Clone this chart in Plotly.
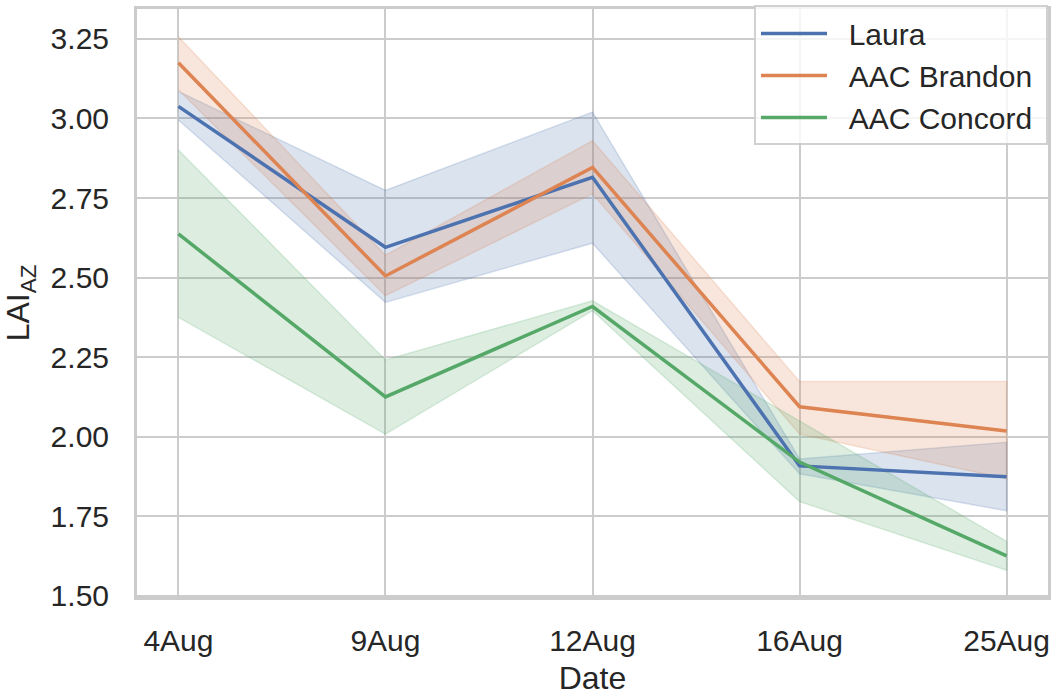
import plotly.graph_objects as go

# Sampling dates (categorical x axis)
dates = ["4Aug", "9Aug", "12Aug", "16Aug", "25Aug"]

# Mean LAI_AZ per cultivar with confidence band limits
laura_mean = [3.038, 2.595, 2.815, 1.908, 1.874]
laura_lo = [2.995, 2.422, 2.608, 1.883, 1.767]
laura_hi = [3.085, 2.774, 3.020, 1.930, 1.982]

brandon_mean = [3.175, 2.505, 2.846, 2.094, 2.018]
brandon_lo = [3.090, 2.443, 2.763, 2.008, 1.868]
brandon_hi = [3.257, 2.570, 2.930, 2.173, 2.173]

concord_mean = [2.637, 2.125, 2.409, 1.920, 1.625]
concord_lo = [2.375, 2.008, 2.396, 1.796, 1.580]
concord_hi = [2.901, 2.241, 2.427, 2.049, 1.671]

y_ticks = [1.50, 1.75, 2.00, 2.25, 2.50, 2.75, 3.00, 3.25]

series = [
    ("Laura", laura_mean, laura_lo, laura_hi, (76, 114, 176)),
    ("AAC Brandon", brandon_mean, brandon_lo, brandon_hi, (221, 132, 82)),
    ("AAC Concord", concord_mean, concord_lo, concord_hi, (85, 168, 104)),
]

FONT = "Liberation Sans, Arial, sans-serif"
TEXT = "#262626"
GRID = "#cccccc"
PAD_L = "\u00a0\u00a0"  # gap between legend line sample and its label
PAD_R = "\u00a0"        # breathing room at the legend's right border

fig = go.Figure()

# Shaded confidence bands first so the mean lines sit on top
for name, mean, lo, hi, (r, g, b) in series:
    fig.add_trace(go.Scatter(
        x=dates + dates[::-1],
        y=hi + lo[::-1],
        fill="toself",
        fillcolor=f"rgba({r},{g},{b},0.2)",
        line=dict(color=f"rgba({r},{g},{b},0.2)", width=1.5),
        mode="lines",
        hoverinfo="skip",
        showlegend=False,
    ))

for i, (name, mean, lo, hi, (r, g, b)) in enumerate(series):
    fig.add_trace(go.Scatter(
        x=dates,
        y=mean,
        mode="lines",
        name=PAD_L + name + PAD_R,
        legendgroup=f"g{i}",
        line=dict(color=f"rgb({r},{g},{b})", width=3.5),
    ))

fig.update_layout(
    width=1056,
    height=696,
    margin=dict(l=137, r=5, t=6, b=97),
    paper_bgcolor="white",
    plot_bgcolor="white",
    font=dict(family=FONT, size=30, color=TEXT),
    showlegend=True,
    legend=dict(
        x=1.0, y=1.006, xanchor="right", yanchor="top",
        bgcolor="rgba(255,255,255,0.8)",
        bordercolor="rgba(204,204,204,0.9)",
        borderwidth=2,
        font=dict(family=FONT, size=30, color=TEXT),
        itemwidth=66,
        tracegroupgap=0,
    ),
    xaxis=dict(
        type="category",
        categoryorder="array",
        categoryarray=dates,
        range=[-0.2, 4.2],
        showgrid=True,
        gridcolor=GRID,
        gridwidth=2,
        showline=True,
        mirror=True,
        linecolor=GRID,
        linewidth=3,
        zeroline=False,
        ticks="",
        ticklabelstandoff=15,
        tickfont=dict(size=30, color=TEXT),
        title=dict(text="Date", font=dict(size=32, color=TEXT), standoff=12),
    ),
    yaxis=dict(
        range=[1.496, 3.344],
        tickvals=y_ticks,
        ticktext=[f"{v:.2f}" for v in y_ticks],
        showgrid=True,
        gridcolor=GRID,
        gridwidth=2,
        showline=True,
        mirror=True,
        linecolor=GRID,
        linewidth=3,
        zeroline=False,
        ticks="",
        ticklabelstandoff=19,
        tickfont=dict(size=30, color=TEXT),
        title=dict(text="LAI<sub>AZ</sub>", font=dict(size=32, color=TEXT), standoff=12),
    ),
)

fig.write_html("out.html")
